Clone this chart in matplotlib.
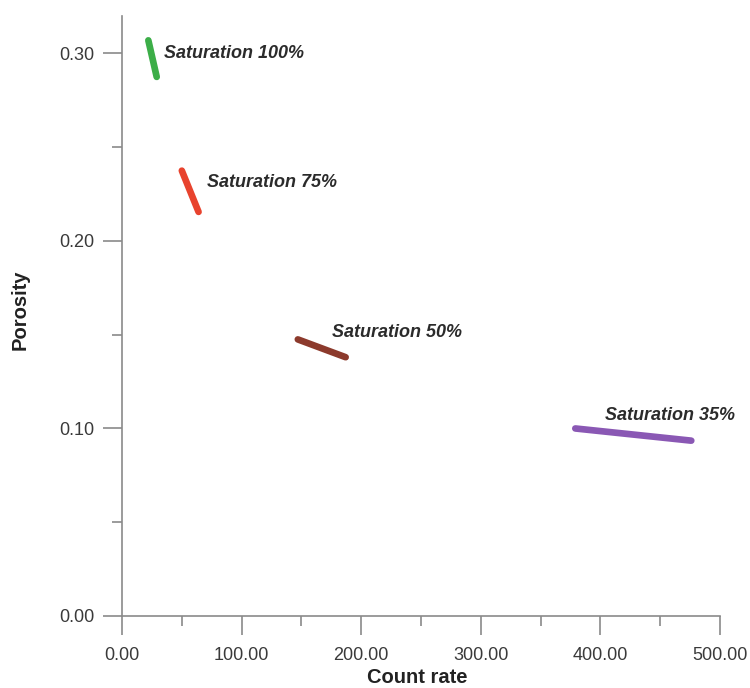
import numpy as np
import matplotlib
matplotlib.use("Agg")
import matplotlib.pyplot as plt
from matplotlib.ticker import MultipleLocator, FormatStrFormatter

# saturation trend segments: (count rate, porosity) at each end
sat_names = ["Saturation 100%", "Saturation 75%", "Saturation 50%", "Saturation 35%"]
count_start = [22.0, 50.0, 147.0, 379.0]
count_end = [29.0, 64.0, 187.0, 476.0]
poros_start = [0.307, 0.2375, 0.1475, 0.1000]
poros_end = [0.2875, 0.2155, 0.1380, 0.0935]
colors = ["#3cae48", "#e8432e", "#8c3a2c", "#8a58b4"]

# label anchor (left edge, vertical centre) for each segment
label_x = [35.0, 71.0, 175.5, 403.5]
label_y = [0.300, 0.231, 0.151, 0.107]

plt.rcParams["font.family"] = ["Liberation Sans", "DejaVu Sans"]

fig = plt.figure(figsize=(7.5, 6.88), dpi=100)
ax = fig.add_axes([0.1627, 0.1047, 0.7973, 0.8721])

for i in range(len(sat_names)):
    ax.plot([count_start[i], count_end[i]], [poros_start[i], poros_end[i]],
            color=colors[i], lw=4.8, solid_capstyle="round")
    ax.text(label_x[i], label_y[i], sat_names[i], fontsize=13,
            fontweight="bold", style="italic", color="#2b2b2b",
            ha="left", va="center")

ax.set_xlim(0, 500)
ax.set_ylim(0, 0.32)

ax.xaxis.set_major_locator(MultipleLocator(100))
ax.xaxis.set_minor_locator(MultipleLocator(50))
ax.yaxis.set_major_locator(MultipleLocator(0.1))
ax.yaxis.set_minor_locator(MultipleLocator(0.05))
ax.xaxis.set_major_formatter(FormatStrFormatter("%.2f"))
ax.yaxis.set_major_formatter(FormatStrFormatter("%.2f"))

for s in ["top", "right"]:
    ax.spines[s].set_visible(False)
for s in ["left", "bottom"]:
    ax.spines[s].set_color("#8a8a8a")
    ax.spines[s].set_linewidth(1.2)

ax.tick_params(axis="both", which="major", length=14, width=1.2,
               color="#8a8a8a", labelsize=13, labelcolor="#3a3a3a")
ax.tick_params(axis="both", which="minor", length=7, width=1.2,
               color="#8a8a8a")
ax.tick_params(axis="x", which="major", pad=8)
ax.tick_params(axis="y", which="major", pad=6)

ax.set_xlabel("Count rate", fontsize=14.5, fontweight="bold", color="#222222")
ax.set_ylabel("Porosity", fontsize=14.5, fontweight="bold", color="#222222")
ax.xaxis.set_label_coords(0.494, -0.086)
ax.yaxis.set_label_coords(-0.155, 0.51)

fig.savefig("out.png", dpi=100)
